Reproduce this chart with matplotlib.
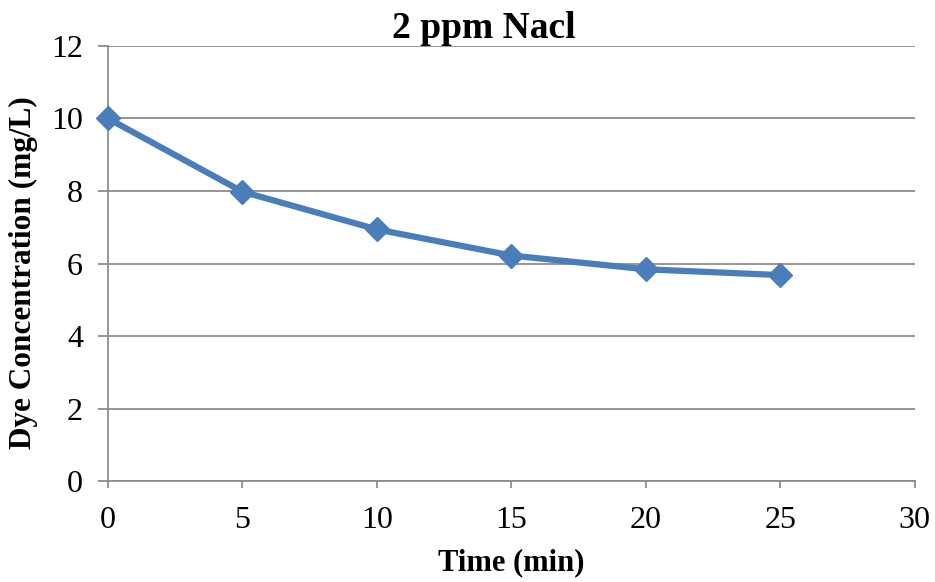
import numpy as np
import matplotlib.pyplot as plt

time_min = [0, 5, 10, 15, 20, 25]
dye_conc = [10.0, 7.98, 6.94, 6.22, 5.84, 5.68]

x_ticks = [0, 5, 10, 15, 20, 25, 30]
y_ticks = [0, 2, 4, 6, 8, 10, 12]

plt.rcParams['font.family'] = ['Liberation Serif', 'DejaVu Serif']

fig = plt.figure(figsize=(9.35, 5.82), dpi=100)
ax = fig.add_axes([0.1155, 0.1735, 0.863, 0.7475])

gray = '#8c8c8c'
ax.set_xlim(0, 30)
ax.set_ylim(0, 12)
ax.set_xticks(x_ticks)
ax.set_yticks(y_ticks)
ax.grid(axis='y', color=gray, lw=1.3)
ax.set_axisbelow(True)

ax.plot(time_min, dye_conc, color='#4a7ebb', lw=4.5, marker='D', ms=12,
        clip_on=False, zorder=3)

for s in ['top', 'right']:
    ax.spines[s].set_visible(False)
for s in ['left', 'bottom']:
    ax.spines[s].set_color(gray)
    ax.spines[s].set_linewidth(1.3)
ax.tick_params(colors=gray, labelcolor='black', labelsize=23, width=1.3,
               direction='out')
ax.tick_params(axis='y', length=7, pad=11)
ax.tick_params(axis='x', length=5, pad=13)

ax.set_title('2 ppm Nacl', fontsize=27, fontweight='bold', x=0.466, pad=1)
ax.set_xlabel('Time (min)', fontsize=22, fontweight='bold')
ax.set_ylabel('Dye Concentration (mg/L)', fontsize=22.5, fontweight='bold')
ax.xaxis.set_label_coords(0.5, -0.154)
ax.yaxis.set_label_coords(-0.087, 0.478)

fig.savefig('out.png', dpi=100)
